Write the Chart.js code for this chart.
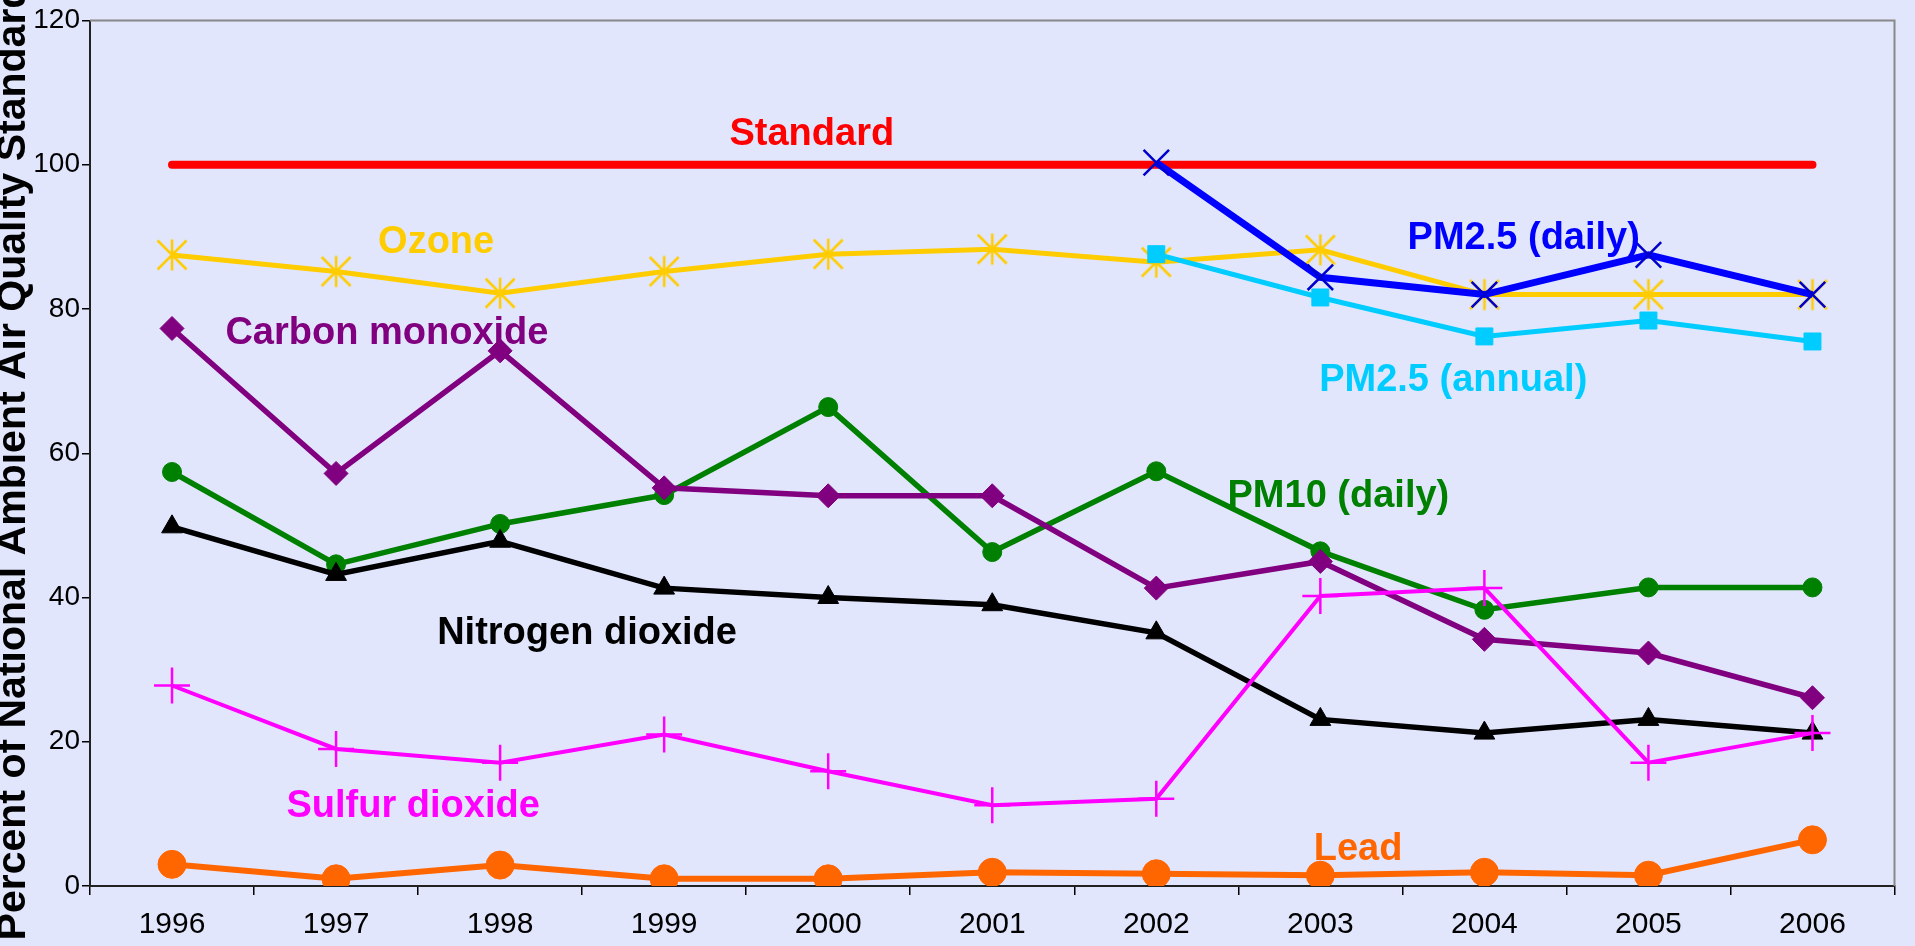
<!DOCTYPE html>
<html>
<head>
<meta charset="utf-8">
<script src="https://cdn.jsdelivr.net/npm/chart.js@4.4.0/dist/chart.umd.min.js"></script>
<style>
  html, body { margin: 0; padding: 0; background: #E1E6FD; overflow: hidden; }
  canvas { display: block; }
</style>
</head>
<body>
<canvas id="airChart" width="1915" height="946"></canvas>
<script>
const years = ['1996', '1997', '1998', '1999', '2000', '2001', '2002', '2003', '2004', '2005', '2006'];
const standard = [100, 100, 100, 100, 100, 100, 100, 100, 100, 100, 100];
const ozone = [87.5, 85.2, 82.2, 85.2, 87.6, 88.3, 86.5, 88.2, 82, 82, 82];
const carbonMonoxide = [77.3, 57.2, 74.2, 55.2, 54.1, 54.1, 41.3, 45, 34.2, 32.3, 26.1];
const pm10Daily = [57.4, 44.6, 50.2, 54.2, 66.4, 46.3, 57.5, 46.4, 38.3, 41.4, 41.4];
const nitrogenDioxide = [49.8, 43.2, 47.8, 41.3, 40, 39, 35.1, 23.1, 21.2, 23.1, 21.2];
const sulfurDioxide = [27.8, 19, 17.1, 21, 15.9, 11.2, 12.1, 40.2, 41.3, 17.1, 21.2];
const lead = [3, 1, 2.9, 1, 1, 1.9, 1.7, 1.5, 1.9, 1.5, 6.4];
const pm25Daily = [null, null, null, null, null, null, 100.3, 84.4, 82, 87.5, 82];
const pm25Annual = [null, null, null, null, null, null, 87.6, 81.6, 76.2, 78.4, 75.5];

const yTicks = [0, 20, 40, 60, 80, 100, 120];
const yTitle = 'Percent of National Ambient Air Quality Standard';

// series labels: text, colour, anchor (category index, value)
const seriesLabels = [
  ['Standard', '#FF0000', 3.9, 102.8],
  ['Ozone', '#FFCC00', 1.61, 87.7],
  ['Carbon monoxide', '#800080', 1.31, 75.2],
  ['PM2.5 (daily)', '#0000FF', 8.24, 88.3],
  ['PM2.5 (annual)', '#00CCFF', 7.81, 68.6],
  ['PM10 (daily)', '#008000', 7.11, 52.5],
  ['Nitrogen dioxide', '#000000', 2.53, 33.6],
  ['Sulfur dioxide', '#FF00FF', 1.47, 9.6],
  ['Lead', '#FF6600', 7.23, 3.6]
];

const FONT = "'Liberation Sans', Arial, sans-serif";

// six armed asterisk like the spreadsheet marker
function asterisk(color) {
  const c = document.createElement('canvas');
  c.width = 34; c.height = 34;
  const g = c.getContext('2d');
  g.strokeStyle = color;
  g.lineWidth = 2.5;
  g.beginPath();
  g.moveTo(17, 1.5); g.lineTo(17, 32.5);
  g.moveTo(2.5, 2.5); g.lineTo(31.5, 31.5);
  g.moveTo(31.5, 2.5); g.lineTo(2.5, 31.5);
  g.stroke();
  return c;
}

const frame = {
  id: 'frame',
  beforeDatasetsDraw(chart) {
    const { ctx, chartArea: a } = chart;
    ctx.save();
    ctx.strokeStyle = '#888888';
    ctx.lineWidth = 2;
    ctx.beginPath();
    ctx.moveTo(a.left, a.top);
    ctx.lineTo(a.right, a.top);
    ctx.lineTo(a.right, a.bottom);
    ctx.stroke();
    ctx.restore();
  }
};

const texts = {
  id: 'texts',
  afterDraw(chart) {
    const { ctx } = chart;
    const xs = chart.scales.x, ys = chart.scales.y;
    ctx.save();
    ctx.font = 'bold 38px ' + FONT;
    ctx.textAlign = 'center';
    ctx.textBaseline = 'alphabetic';
    seriesLabels.forEach(([t, col, i, v]) => {
      ctx.fillStyle = col;
      ctx.fillText(t, xs.getPixelForValue(i), ys.getPixelForValue(v));
    });
    ctx.translate(25, 462);
    ctx.rotate(-Math.PI / 2);
    ctx.fillStyle = '#000';
    ctx.font = 'bold 41px ' + FONT;
    ctx.fillText(yTitle, 0, 0);
    ctx.restore();
  }
};

function series(data, color, width, style, radius, order, extra) {
  return Object.assign({
    data: data,
    borderColor: color,
    backgroundColor: color,
    borderWidth: width,
    pointStyle: style,
    pointRadius: radius,
    pointBorderColor: color,
    pointBackgroundColor: color,
    pointBorderWidth: 1,
    tension: 0,
    order: order
  }, extra || {});
}

new Chart(document.getElementById('airChart'), {
  type: 'line',
  data: {
    labels: years,
    datasets: [
      series(pm25Daily, '#0000FF', 7, 'crossRot', 18, 0, { pointBorderColor: '#0000CC', pointBorderWidth: 2.5 }),
      series(pm25Annual, '#00CCFF', 5, 'rect', 12, 1),
      series(ozone, '#FFCC00', 5, asterisk('#FFCC00'), 17, 2),
      series(sulfurDioxide, '#FF00FF', 4, 'cross', 18, 3, { pointBorderWidth: 2.5 }),
      series(nitrogenDioxide, '#000000', 5.5, 'triangle', 12, 4),
      series(carbonMonoxide, '#800080', 5.5, 'rectRot', 12, 5),
      series(pm10Daily, '#008000', 5.5, 'circle', 9.5, 6),
      series(lead, '#FF6600', 6, 'circle', 14, 7),
      series(standard, '#FF0000', 8, 'circle', 0, 8, { borderCapStyle: 'round' })
    ]
  },
  options: {
    responsive: false,
    animation: false,
    devicePixelRatio: 1,
    layout: { padding: { top: 20, right: 6, left: 0, bottom: 0 } },
    plugins: { legend: { display: false }, tooltip: { enabled: false } },
    scales: {
      x: {
        offset: true,
        grid: { display: true, offset: true, drawOnChartArea: false, drawTicks: true, tickLength: 9, color: '#000', lineWidth: 1.5 },
        border: { display: true, color: '#222', width: 2 },
        ticks: { color: '#000', font: { family: FONT, size: 30 }, padding: 12, maxRotation: 0, autoSkip: false },
        afterFit(scale) { scale.height = 60; scale.paddingLeft = 0; scale.paddingRight = 0; }
      },
      y: {
        min: 0,
        max: 120,
        afterBuildTicks(scale) { scale.ticks = yTicks.map(v => ({ value: v })); },
        grid: { display: true, drawOnChartArea: false, drawTicks: true, tickLength: 8, color: '#000', lineWidth: 1.5 },
        border: { display: true, color: '#222', width: 2 },
        ticks: { color: '#000', font: { family: FONT, size: 28 }, padding: 2 },
        afterFit(scale) { scale.width = 90; }
      }
    }
  },
  plugins: [frame, texts]
});
</script>
</body>
</html>
